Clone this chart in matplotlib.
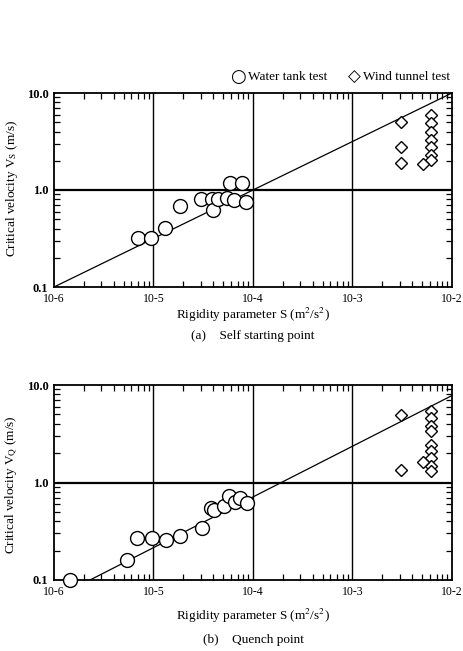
import matplotlib
matplotlib.use("Agg")
import matplotlib.pyplot as plt
from matplotlib.ticker import LogLocator, NullFormatter, FixedLocator

plt.rcParams['font.family'] = ['Liberation Serif', 'DejaVu Serif']
plt.rcParams['mathtext.fontset'] = 'stix'

# ---------------- data ----------------
# (a) Self starting point
a_water_S = [7.0e-6, 9.5e-6, 1.3e-5, 1.85e-5, 3.0e-5, 3.85e-5, 4.0e-5, 4.4e-5,
             5.5e-5, 5.9e-5, 6.5e-5, 7.7e-5, 8.6e-5]
a_water_V = [0.32, 0.32, 0.41, 0.68, 0.81, 0.81, 0.62, 0.80,
             0.82, 1.17, 0.78, 1.17, 0.75]
a_wind_S = [3.05e-3, 3.05e-3, 3.05e-3, 6.1e-3, 6.1e-3, 6.1e-3, 6.1e-3, 6.1e-3,
            6.1e-3, 6.1e-3, 5.1e-3]
a_wind_V = [5.0, 2.8, 1.89, 5.9, 4.9, 4.0, 3.28, 2.8, 2.3, 2.04, 1.85]
a_line_S = [1e-6, 1e-2]
a_line_V = [0.1, 10.0]

# (b) Quench point
b_water_S = [1.45e-6, 5.4e-6, 6.9e-6, 9.6e-6, 1.35e-5, 1.85e-5, 3.1e-5, 3.8e-5,
             4.1e-5, 5.1e-5, 5.7e-5, 6.6e-5, 7.4e-5, 8.8e-5]
b_water_V = [0.10, 0.16, 0.27, 0.27, 0.26, 0.28, 0.34, 0.55,
             0.52, 0.58, 0.72, 0.63, 0.70, 0.62]
b_wind_S = [3.05e-3, 3.1e-3, 6.1e-3, 6.1e-3, 6.1e-3, 6.1e-3, 6.1e-3, 6.1e-3,
            6.1e-3, 6.1e-3, 6.1e-3, 5.1e-3]
b_wind_V = [4.87, 1.34, 5.4, 4.6, 3.8, 3.36, 2.45, 2.09, 1.79, 1.47, 1.31, 1.62]
b_line_S = [2.3e-6, 1e-2]
b_line_V = [0.1, 7.8]

x_ticks = [1e-6, 1e-5, 1e-4, 1e-3, 1e-2]
x_ticklabels = ['10-6', '10-5', '10-4', '10-3', '10-2']
y_ticks = [0.1, 1.0, 10.0]
y_ticklabels = ['0.1', '1.0', '10.0']

W, H = 464, 651
fig = plt.figure(figsize=(W / 100, H / 100), dpi=100)


def make_axes(top_px, bottom_px):
    left, right = 54, 452
    return fig.add_axes([left / W, 1 - bottom_px / H, (right - left) / W,
                         (bottom_px - top_px) / H])


def style(ax, ylab, ylab_y, xlab_y, cap_y, caption):
    ax.set_xscale('log')
    ax.set_yscale('log')
    ax.set_xlim(1e-6, 1e-2)
    ax.set_ylim(0.1, 10.0)
    for s in ax.spines.values():
        s.set_linewidth(1.3)
        s.set_color('black')
    ax.xaxis.set_major_locator(FixedLocator(x_ticks))
    ax.yaxis.set_major_locator(FixedLocator(y_ticks))
    ax.set_xticklabels(x_ticklabels, fontsize=8.5)
    ax.set_yticklabels(y_ticklabels, fontsize=9, fontweight='bold')
    ax.xaxis.set_minor_locator(LogLocator(base=10, subs=range(2, 10)))
    ax.yaxis.set_minor_locator(LogLocator(base=10, subs=range(2, 10)))
    ax.xaxis.set_minor_formatter(NullFormatter())
    ax.yaxis.set_minor_formatter(NullFormatter())
    ax.tick_params(which='both', direction='in', top=True, right=True,
                   color='black')
    ax.tick_params(which='major', length=0, pad=4)
    ax.tick_params(which='minor', length=4, width=0.9)
    for xv in x_ticks[1:-1]:
        ax.axvline(xv, color='black', lw=1.0, zorder=1)
    ax.axhline(1.0, color='black', lw=1.6, zorder=1)
    ax.text(0.5, xlab_y, 'Rigidity parameter S (m$^2$/s$^2$)', transform=ax.transAxes,
            ha='center', va='center', fontsize=9.5)
    ax.text(-0.106, ylab_y, ylab, transform=ax.transAxes, rotation=90,
            ha='center', va='center', fontsize=9.5)
    ax.text(0.5, cap_y, caption, transform=ax.transAxes,
            ha='center', va='center', fontsize=9.5)


# ---- (a)
ax1 = make_axes(93, 287)
style(ax1, 'Critical velocity V$_\\mathrm{S}$ (m/s)', 0.51, -0.144, -0.253,
      '(a)    Self starting point')
ax1.plot(a_line_S, a_line_V, color='black', lw=0.9, zorder=2)
ax1.plot(a_water_S, a_water_V, linestyle='none', marker='o', markersize=10,
         markerfacecolor='white', markeredgecolor='black', markeredgewidth=1.0,
         zorder=3)
ax1.plot(a_wind_S, a_wind_V, linestyle='none', marker='D', markersize=6.5,
         markerfacecolor='white', markeredgecolor='black', markeredgewidth=1.0,
         zorder=3)

# legend-like text above
ly = 1 - 77 / H
fig.text(238 / W, ly, '\u25cb', fontsize=13, ha='center', va='center',
         family='DejaVu Sans')
fig.text(248 / W, ly, 'Water tank test', fontsize=9.5, ha='left', va='center')
fig.text(354 / W, ly, '\u25c7', fontsize=12, ha='center', va='center',
         family='DejaVu Sans')
fig.text(363 / W, ly, 'Wind tunnel test', fontsize=9.5, ha='left', va='center')

# ---- (b)
ax2 = make_axes(385, 580)
style(ax2, 'Critical velocity V$_\\mathrm{Q}$ (m/s)', 0.49, -0.185, -0.308,
      '(b)    Quench point')
ax2.plot(b_line_S, b_line_V, color='black', lw=0.9, zorder=2)
ax2.plot(b_water_S, b_water_V, linestyle='none', marker='o', markersize=10,
         markerfacecolor='white', markeredgecolor='black', markeredgewidth=1.0,
         zorder=3, clip_on=False)
ax2.plot(b_wind_S, b_wind_V, linestyle='none', marker='D', markersize=6.5,
         markerfacecolor='white', markeredgecolor='black', markeredgewidth=1.0,
         zorder=3)

fig.savefig('out.png', dpi=100, facecolor='white')
